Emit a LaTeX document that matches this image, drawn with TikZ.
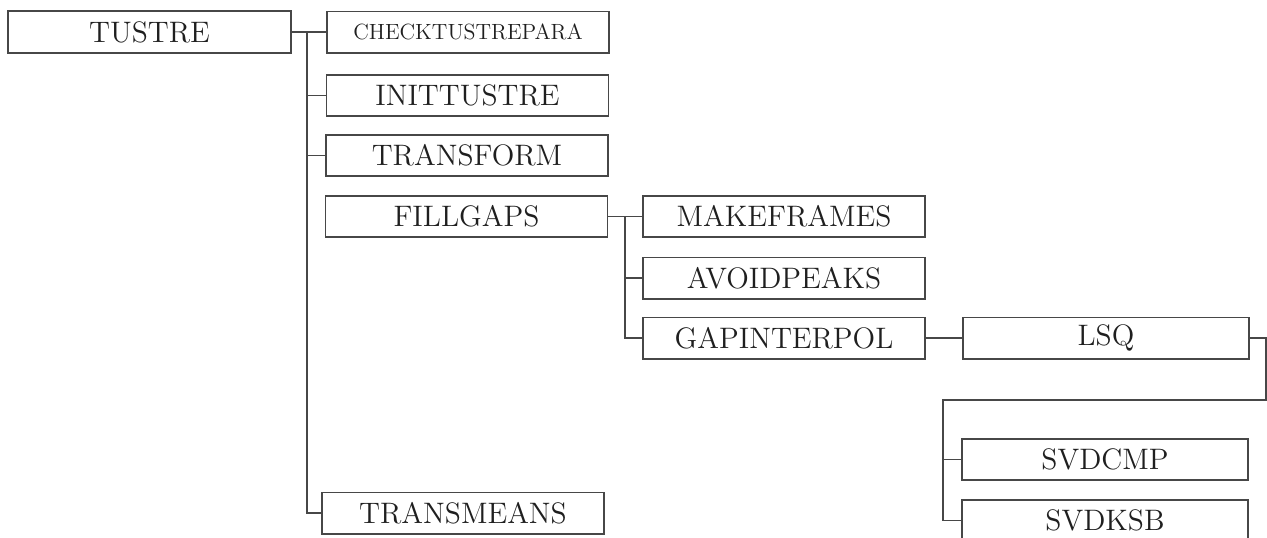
\documentclass[tikz,border=0pt]{standalone}
\begin{document}
\begin{tikzpicture}[x=0.5pt,y=-0.5pt,
  box/.style={draw=black!72, line width=0.9pt, rectangle, inner sep=0pt, text=black!88,
    font=\fontsize{14.8}{16}\selectfont, minimum height=20.6pt},
  small/.style={font=\fontsize{11}{12}\selectfont},
  wA/.style={minimum width=141pt},
  wB/.style={minimum width=141pt},
  wC/.style={minimum width=143pt},
  wire/.style={draw=black!72, line width=0.8pt}]
\useasboundingbox (0,0) rectangle (1267,537);
% column 0
\node[box, minimum width=141.5pt, minimum height=21pt] (tustre) at (149.5,32) {TUSTRE};
% column 1
\node[box, wA, small] (check) at (468,32) {CHECKTUSTREPARA};
\node[box, wA] (init) at (467.5,95.5) {INITTUSTRE};
\node[box, wA] (trans) at (467,155.5) {TRANSFORM};
\node[box, wA] (fill) at (466.5,216.5) {FILLGAPS};
\node[box, wA] (means) at (463,513) {TRANSMEANS};
% column 2
\node[box, wB] (make) at (784,216.5) {MAKEFRAMES};
\node[box, wB] (avoid) at (784,278) {AVOIDPEAKS};
\node[box, wB] (gap) at (784,338) {GAPINTERPOL};
% column 3
\node[box, wC] (lsq) at (1106,338) {LSQ};
\node[box, wC] (svdcmp) at (1105,459.5) {SVDCMP};
\node[box, wC] (svdksb) at (1105,520.5) {SVDKSB};
% trunk coordinates
\coordinate (t0) at (307,32);
\coordinate (t1) at (307,513);
\coordinate (f0) at (625,216.5);
\coordinate (f1) at (625,338);
\coordinate (l1) at (1266,338);
\coordinate (l2) at (1266,400);
\coordinate (l3) at (943,400);
\coordinate (l4) at (943,520.5);
% connectors from TUSTRE
\draw[wire] (tustre.east) -- (check.west);
\draw[wire] (t0) -- (t1) -- (means.west);
\draw[wire] (init.west) -- (init.west -| t0);
\draw[wire] (trans.west) -- (trans.west -| t0);
% connectors from FILLGAPS
\draw[wire] (fill.east) -- (make.west);
\draw[wire] (f0) -- (f1) -- (gap.west);
\draw[wire] (avoid.west) -- (avoid.west -| f0);
% GAPINTERPOL to LSQ
\draw[wire] (gap.east) -- (lsq.west);
% LSQ to SVD routines
\draw[wire] (lsq.east) -- (l1) -- (l2) -- (l3) -- (l4) -- (svdksb.west);
\draw[wire] (svdcmp.west) -- (svdcmp.west -| l3);
\end{tikzpicture}
\end{document}
